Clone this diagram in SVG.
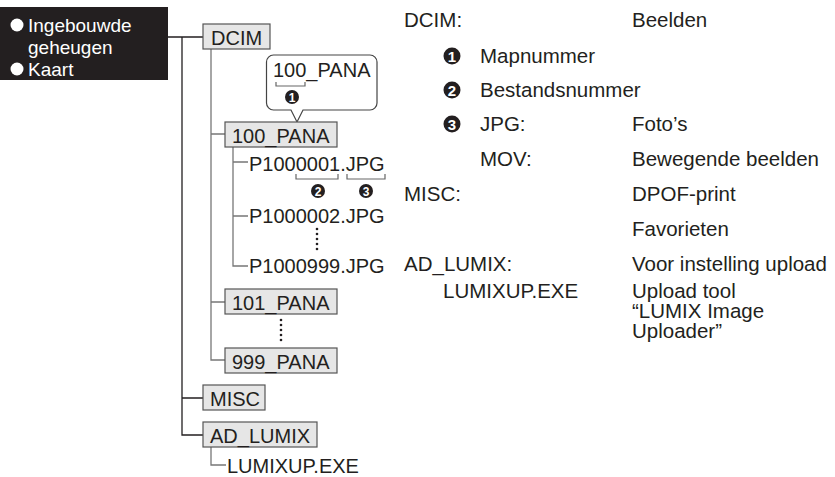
<svg xmlns="http://www.w3.org/2000/svg" width="835" height="477" viewBox="0 0 835 477">
<style>
text{font-family:"Liberation Sans",Arial,sans-serif;fill:#231f20}
.t{font-size:20px}
.r{font-size:20.5px}
.w{fill:#fff;font-size:19px}
.box{fill:#e6e6e6;stroke:#555;stroke-width:1.2}
.blk{fill:none;stroke:#231f20;stroke-width:1.3}
.gry{fill:none;stroke:#777;stroke-width:1.3}
.brk{fill:none;stroke:#666;stroke-width:1.2}
.num{fill:#fff;font-weight:bold;text-anchor:middle}
.dot{fill:#231f20}
</style>
<g id="legend">
<rect x="0" y="7" width="168" height="73" fill="#231f20"/>
<circle cx="17" cy="25" r="6.5" fill="#fff"/>
<text class="w" x="28" y="32">Ingebouwde</text>
<text class="w" x="28" y="54">geheugen</text>
<circle cx="17" cy="69" r="6.5" fill="#fff"/>
<text class="w" x="28" y="76">Kaart</text>
</g>
<g id="connectors">
<path class="blk" d="M168,37 H203 M182,37 V435 H203 M182,398 H203"/>
<path class="gry" d="M211,49 V360 H225 M211,134 H225 M211,302 H225"/>
<path class="gry" d="M233,147 V266 H248 M233,162 H248 M233,216 H248"/>
<path class="gry" d="M211,447 V465 H226"/>
</g>
<g id="dcim">
<rect class="box" x="203" y="24" width="67" height="25"/>
<text class="t" x="211" y="45">DCIM</text>
</g>
<g id="callout">
<path d="M273.5,55 H370 A7,7 0 0 1 377,62 V103 A7,7 0 0 1 370,110 H303 L297,122 L291,110 H273.5 A7,7 0 0 1 266.5,103 V62 A7,7 0 0 1 273.5,55 Z" fill="#fff" stroke="#444" stroke-width="1.2"/>
<text class="t" x="273" y="77">100_PANA</text>
<path class="brk" d="M276,82 V86 H305 V82"/>
<circle cx="292" cy="97" r="7" fill="#231f20"/>
<text class="num" x="292" y="101.5" font-size="12">1</text>
</g>
<g id="pana100">
<rect class="box" x="225" y="122" width="112" height="25"/>
<text class="t" x="232" y="143">100_PANA</text>
</g>
<g id="file1">
<text class="t" x="249" y="171">P1000001.JPG</text>
<path class="brk" d="M296,174 V179 H338 V174 M347,174 V179 H385 V174"/>
<circle cx="318" cy="191" r="7" fill="#231f20"/>
<text class="num" x="318" y="195.5" font-size="12">2</text>
<circle cx="366" cy="191" r="7" fill="#231f20"/>
<text class="num" x="366" y="195.5" font-size="12">3</text>
</g>
<g id="file2">
<text class="t" x="249" y="223">P1000002.JPG</text>
</g>
<g id="dots1">
<circle class="dot" cx="317" cy="229" r="1.3"/>
<circle class="dot" cx="317" cy="234" r="1.3"/>
<circle class="dot" cx="317" cy="239" r="1.3"/>
<circle class="dot" cx="317" cy="244" r="1.3"/>
<circle class="dot" cx="317" cy="249" r="1.3"/>
</g>
<g id="file999">
<text class="t" x="249" y="273">P1000999.JPG</text>
</g>
<g id="pana101">
<rect class="box" x="225" y="289" width="112" height="25"/>
<text class="t" x="232" y="310">101_PANA</text>
</g>
<g id="dots2">
<circle class="dot" cx="281" cy="320" r="1.3"/>
<circle class="dot" cx="281" cy="325" r="1.3"/>
<circle class="dot" cx="281" cy="330" r="1.3"/>
<circle class="dot" cx="281" cy="335" r="1.3"/>
<circle class="dot" cx="281" cy="340" r="1.3"/>
</g>
<g id="pana999">
<rect class="box" x="225" y="348" width="112" height="25"/>
<text class="t" x="232" y="369">999_PANA</text>
</g>
<g id="misc">
<rect class="box" x="203" y="385" width="62" height="25"/>
<text class="t" x="210" y="406">MISC</text>
</g>
<g id="adlumix">
<rect class="box" x="203" y="422" width="114" height="25"/>
<text class="t" x="210" y="443">AD_LUMIX</text>
</g>
<g id="lumixup">
<text class="t" x="227" y="473">LUMIXUP.EXE</text>
</g>
<g id="description">
<text class="r" x="404" y="27">DCIM:</text>
<text class="r" x="632" y="27">Beelden</text>
<circle cx="452" cy="56" r="8.5" fill="#231f20"/>
<text class="num" x="452" y="61.5" font-size="15">1</text>
<text class="r" x="480" y="63">Mapnummer</text>
<circle cx="452" cy="90" r="8.5" fill="#231f20"/>
<text class="num" x="452" y="95.5" font-size="15">2</text>
<text class="r" x="480" y="97">Bestandsnummer</text>
<circle cx="452" cy="124" r="8.5" fill="#231f20"/>
<text class="num" x="452" y="129.5" font-size="15">3</text>
<text class="r" x="480" y="131">JPG:</text>
<text class="r" x="632" y="131">Foto’s</text>
<text class="r" x="480" y="166">MOV:</text>
<text class="r" x="632" y="166">Bewegende beelden</text>
<text class="r" x="404" y="201">MISC:</text>
<text class="r" x="632" y="201">DPOF-print</text>
<text class="r" x="632" y="236">Favorieten</text>
<text class="r" x="404" y="271">AD_LUMIX:</text>
<text class="r" x="632" y="271">Voor instelling upload</text>
<text class="r" x="443" y="298">LUMIXUP.EXE</text>
<text class="r" x="632" y="298"><tspan x="632" y="298">Upload tool</tspan><tspan x="632" y="318">“LUMIX Image</tspan><tspan x="632" y="338">Uploader”</tspan></text>
</g>
</svg>
